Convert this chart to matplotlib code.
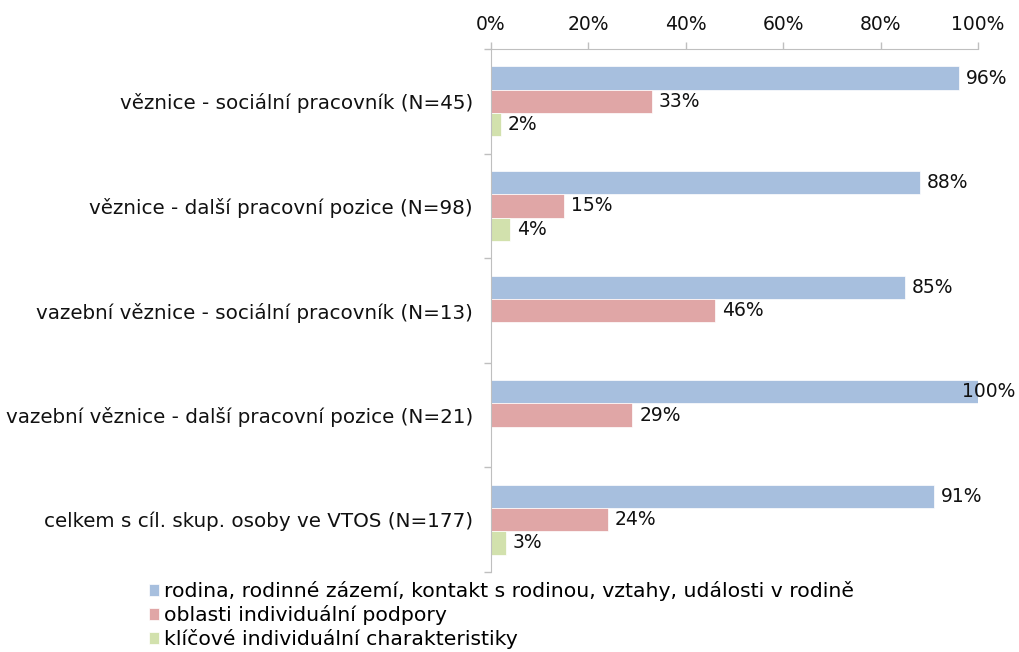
import matplotlib
matplotlib.use("Agg")
import matplotlib.pyplot as plt
import numpy as np

categories = [
    "věznice - sociální pracovník (N=45)",
    "věznice - další pracovní pozice (N=98)",
    "vazební věznice - sociální pracovník (N=13)",
    "vazební věznice - další pracovní pozice (N=21)",
    "celkem s cíl. skup. osoby ve VTOS (N=177)",
]
series_names = [
    "rodina, rodinné zázemí, kontakt s rodinou, vztahy, události v rodině",
    "oblasti individuální podpory",
    "klíčové individuální charakteristiky",
]
rodina = [96, 88, 85, 100, 91]
podpora = [33, 15, 46, 29, 24]
charakteristiky = [2, 4, np.nan, np.nan, 3]
xticks = [0, 20, 40, 60, 80, 100]
colors = ["#A7BFDE", "#E0A6A6", "#D2E1AD"]

plt.rcParams["font.family"] = ["DejaVu Sans"]
fig = plt.figure(figsize=(10.19, 6.52), dpi=100)
ax = fig.add_axes([0.4818, 0.1227, 0.478, 0.8021])

n = len(categories)
y = np.arange(n)
h = 0.222
data = [rodina, podpora, charakteristiky]
bars = []
for k, (vals, c, name) in enumerate(zip(data, colors, series_names)):
    v = np.array(vals, dtype=float)
    b = ax.barh(y + (k - 1) * h, np.nan_to_num(v), height=h, color=c,
                edgecolor="white", linewidth=0.5, label=name)
    bars.append(b)
    for yi, vi in zip(y + (k - 1) * h, v):
        if np.isnan(vi):
            continue
        if vi >= 99:
            ax.annotate(f"{vi:.0f}%", (vi, yi), xytext=(27, 0), textcoords="offset points",
                        ha="right", va="center", fontsize=13.5, color="#111111",
                        annotation_clip=False)
        else:
            ax.annotate(f"{vi:.0f}%", (vi, yi), xytext=(5, 0), textcoords="offset points",
                        ha="left", va="center", fontsize=13.5, color="#111111",
                        annotation_clip=False)

ax.set_xlim(0, 100)
ax.set_ylim(n - 0.5, -0.5)
ax.xaxis.tick_top()
ax.set_xticks(xticks)
ax.set_xticklabels([f"{t}%" for t in xticks], fontsize=13.5, color="#111111")
ax.set_yticks(y)
ax.set_yticklabels(categories, fontsize=14.3, color="#111111")
ax.set_yticks(np.arange(n + 1) - 0.5, minor=True)
ax.tick_params(axis="y", which="major", length=0, pad=13)
ax.tick_params(axis="y", which="minor", length=5, color="#BFBFBF", width=1)
ax.tick_params(axis="x", length=5, color="#BFBFBF", width=1, pad=6)
for s in ["right", "bottom"]:
    ax.spines[s].set_visible(False)
for s in ["left", "top"]:
    ax.spines[s].set_color("#BFBFBF")

fig.legend(handles=bars, labels=series_names, loc="upper left",
           bbox_to_anchor=(0.146, 0.109), frameon=False, fontsize=14.7,
           handlelength=0.5, handleheight=0.5, handletextpad=0.25,
           labelspacing=0.2, borderaxespad=0, borderpad=0)

fig.savefig("out.png", dpi=100)
